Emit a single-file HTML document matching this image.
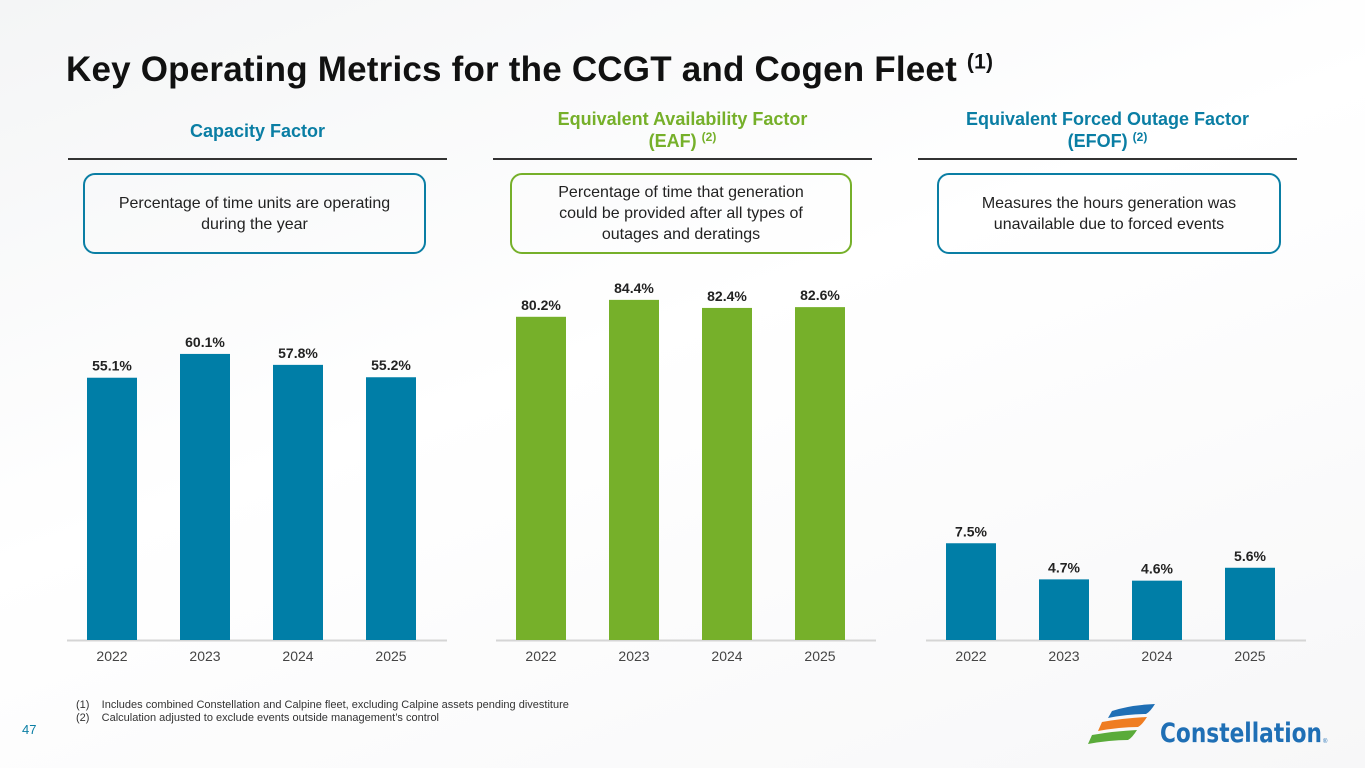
<!DOCTYPE html>
<html><head><meta charset="utf-8"><style>
body{margin:0;width:1365px;height:768px;overflow:hidden;font-family:"Liberation Sans",sans-serif;background:linear-gradient(160deg,#f4f5f6 0%,#fff 45%,#f7f7f8 100%);position:relative}
.abs{position:absolute}
h1{position:absolute;left:66px;top:50px;margin:0;font-size:35px;font-weight:bold;color:#111;letter-spacing:0.2px;white-space:nowrap}
h1 sup{font-size:21px;line-height:0}
.hd{position:absolute;text-align:center;font-weight:bold;font-size:18px;line-height:22px}
.hd sup{font-size:12px;line-height:0;vertical-align:6px}
.rule{position:absolute;height:2px;background:#333;top:158px}
.box{position:absolute;border:2.5px solid;border-radius:12px;box-sizing:border-box;display:flex;align-items:center;justify-content:center;text-align:center;font-size:16px;line-height:21px;color:#222;padding:0 14px}
.fn{position:absolute;left:76px;font-size:11px;color:#333}
</style></head><body>
<h1>Key Operating Metrics for the CCGT and Cogen Fleet <sup>(1)</sup></h1>

<div class="hd" style="left:68px;width:379px;top:120px;color:#0a7ea4">Capacity Factor</div>
<div class="hd" style="left:493px;width:379px;top:108px;color:#76b02a">Equivalent Availability Factor<br>(EAF) <sup>(2)</sup></div>
<div class="hd" style="left:918px;width:379px;top:108px;color:#0a7ea4">Equivalent Forced Outage Factor<br>(EFOF) <sup>(2)</sup></div>
<div class="rule" style="left:68px;width:379px"></div>
<div class="rule" style="left:493px;width:379px"></div>
<div class="rule" style="left:918px;width:379px"></div>

<div class="box" style="left:83px;top:173px;width:343px;height:81px;border-color:#0a7ea4">Percentage of time units are operating during the year</div>
<div class="box" style="left:510px;top:173px;width:342px;height:81px;border-color:#76b02a;padding:0 32px">Percentage of time that generation could be provided after all types of outages and deratings</div>
<div class="box" style="left:937px;top:173px;width:344px;height:81px;border-color:#0a7ea4">Measures the hours generation was unavailable due to forced events</div>

<svg class="abs" style="left:0;top:0" width="1365" height="768" id="charts"></svg>

<div class="fn" style="top:699px">(1)&nbsp;&nbsp;&nbsp; Includes combined Constellation and Calpine fleet, excluding Calpine assets pending divestiture</div>
<div class="fn" style="top:712px">(2)&nbsp;&nbsp;&nbsp; Calculation adjusted to exclude events outside management’s control</div>
<div class="abs" style="left:22px;top:722px;font-size:13px;color:#0a7ea4">47</div>

<svg class="abs" style="left:1080px;top:700px" width="285" height="50">
<path d="M32 11 Q50 5 75 4 Q70 12 66 14 Q48 14 28 18 Z" fill="#1f6fb5"/>
<path d="M22 22 Q45 18 67 17 Q62 25 58 27 Q40 27 18 31 Z" fill="#ef7d22"/>
<path d="M12 35 Q35 31 57 30 Q52 38 48 40 Q30 40 8 44 Z" fill="#5aab3a"/>
<text x="80" y="42" font-family="DejaVu Sans, sans-serif" font-size="27" font-weight="bold" fill="#1f6fb5" textLength="162" lengthAdjust="spacingAndGlyphs">Constellation</text>
<text x="243" y="43" font-size="6" fill="#1f6fb5">®</text>
</svg>

<script>
const years=["2022","2023","2024","2025"];
const capacity=[55.1,60.1,57.8,55.2];
const eaf=[80.2,84.4,82.4,82.6];
const efof=[7.5,4.7,4.6,5.6];
const svg=document.getElementById('charts');
const NS='http://www.w3.org/2000/svg';
function mk(t,a){const e=document.createElementNS(NS,t);for(const k in a)e.setAttribute(k,a[k]);svg.appendChild(e);return e;}
function chart(name,vals,x0,color,pxPer){
  const base=640;
  const ax=mk('line',{x1:x0-45,x2:x0+335,y1:base+0.5,y2:base+0.5,stroke:'#d5d5d5','stroke-width':2});
  
  
  vals.forEach((v,i)=>{
    const cx=x0+i*93,h=v*pxPer;
    const r=mk('rect',{x:cx-25,y:base-h,width:50,height:h,fill:color});
    
    
    const l=mk('text',{x:cx,y:base-h-7,'text-anchor':'middle','font-size':14,'font-weight':'bold',fill:'#222'});
    l.textContent=v.toFixed(1)+'%';
    
    
    const t=mk('text',{x:cx,y:661,'text-anchor':'middle','font-size':14,fill:'#444'});
    t.textContent=years[i];
    
    
  });
}
chart('capacity',capacity,112,'#007ea7',4.76);
chart('eaf',eaf,541,'#76b02a',4.03);
chart('efof',efof,971,'#007ea7',12.9);
</script>
</body></html>
